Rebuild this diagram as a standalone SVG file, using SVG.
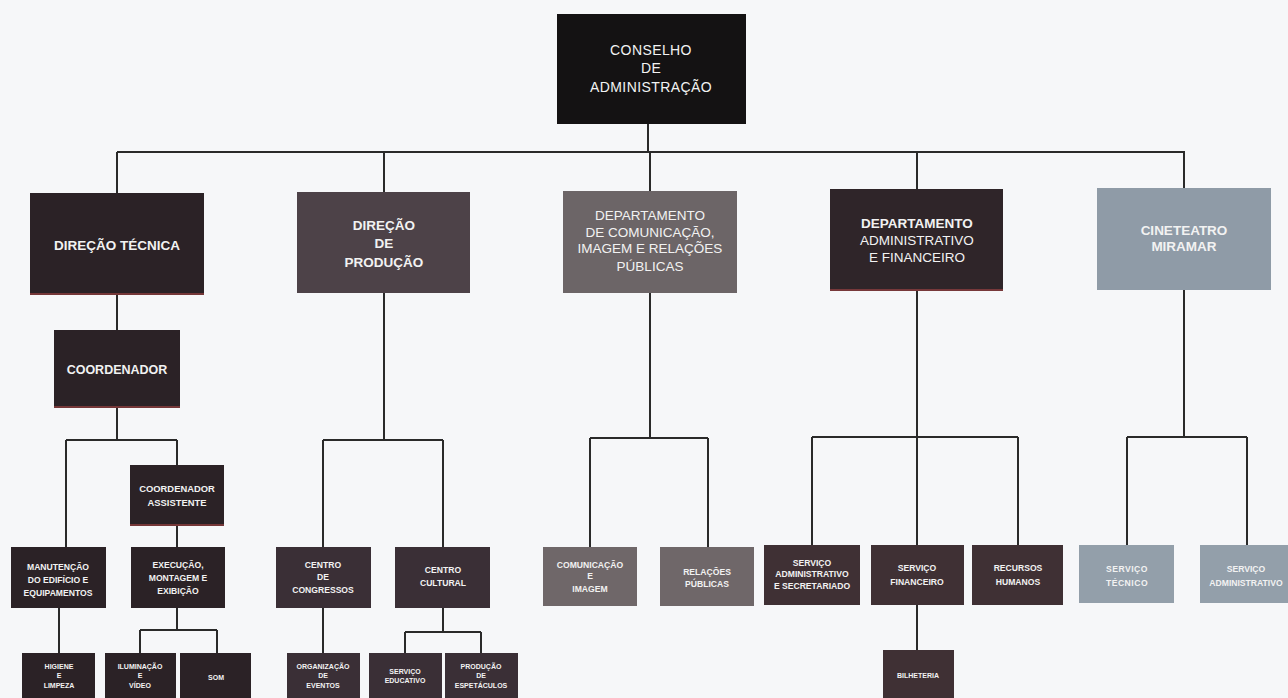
<svg xmlns="http://www.w3.org/2000/svg" width="1288" height="698" viewBox="0 0 1288 698">
<style>
text{font-family:"Liberation Sans",Arial,sans-serif;fill:#f2f2f2;text-anchor:middle}
.b{font-weight:bold}
.l2{font-size:13.5px}
.top{font-size:14px;letter-spacing:0.4px}
.s{font-size:8.6px;font-weight:bold}
.xs{font-size:7px;font-weight:bold}
.k{fill:#141213}
.d{fill:#2b2226}
.p{fill:#4d4248}
.p2{fill:#3a2f36}
.g{fill:#6c6567}
.g2{fill:#6f6769}
.a{fill:#2f2529}
.a2{fill:#3f3034}
.u{fill:#8f9ba7}
.u2{fill:#939faa}
.r{stroke:#b04848;stroke-width:1.5;opacity:0.75}
#connectors path{fill:none;stroke:#2a2a2a;stroke-width:2}
</style>
<rect width="1288" height="698" fill="#f6f7f9"/>
<g id="connectors">
<path d="M648 124V152M117 152H1185M117 152V193M384 152V192M650 152V191M917 152V189M1184 152V188"/>
<path d="M117 295V330M117 408V440M66 440H177M66 440V547M177 440V465M177 526V547M59 608V653M177 608V630M140 630H217M140 630V653M217 630V653"/>
<path d="M384 293V440M323 440H443M323 440V547M443 440V547M323 608V653M443 608V632M405 632H481M405 632V653M481 632V653"/>
<path d="M650 293V438M590 438H708M590 438V547M708 438V547"/>
<path d="M917 291V437M812 437H1018M812 437V545M917 437V545M1018 437V545M917 605V650"/>
<path d="M1184 290V437M1127 437H1247M1127 437V545M1247 437V545"/>
</g>
<g id="conselho"><rect class="k" x="557" y="14" width="189" height="110"/>
<text class="top" x="651" y="55">CONSELHO</text><text class="top" x="651" y="73">DE</text><text class="top" x="651" y="92">ADMINISTRAÇÃO</text></g>
<g id="direcao-tecnica"><rect class="d" x="30" y="193" width="174" height="102"/><line class="r" x1="30" y1="294" x2="204" y2="294"/>
<text class="b l2" x="117" y="250">DIREÇÃO TÉCNICA</text></g>
<g id="direcao-producao"><rect class="p" x="297" y="192" width="173" height="101"/>
<text class="b l2" x="384" y="230">DIREÇÃO</text><text class="b l2" x="384" y="248">DE</text><text class="b l2" x="384" y="267">PRODUÇÃO</text></g>
<g id="dep-comunicacao"><rect class="g" x="563" y="191" width="174" height="102"/>
<text class="l2" x="650" y="220">DEPARTAMENTO</text><text class="l2" x="650" y="237">DE COMUNICAÇÃO,</text><text class="l2" x="650" y="253">IMAGEM E RELAÇÕES</text><text class="l2" x="650" y="271">PÚBLICAS</text></g>
<g id="dep-administrativo"><rect class="a" x="830" y="189" width="173" height="102"/><line class="r" x1="830" y1="290" x2="1003" y2="290"/>
<text class="b l2" x="917" y="228">DEPARTAMENTO</text><text class="l2" x="917" y="245">ADMINISTRATIVO</text><text class="l2" x="917" y="262">E FINANCEIRO</text></g>
<g id="cineteatro"><rect class="u" x="1097" y="188" width="174" height="102"/>
<text class="b l2" x="1184" y="235">CINETEATRO</text><text class="b l2" x="1184" y="251">MIRAMAR</text></g>
<g id="coordenador"><rect class="d" x="54" y="330" width="126" height="78"/><line class="r" x1="54" y1="407" x2="180" y2="407"/>
<text class="b" font-size="12.5" x="117" y="374">COORDENADOR</text></g>
<g id="coordenador-assistente"><rect class="d" x="130" y="465" width="94" height="61"/><line class="r" x1="130" y1="525" x2="224" y2="525"/>
<text class="b" font-size="9.4" x="177" y="492">COORDENADOR</text><text class="b" font-size="9.4" x="177" y="506">ASSISTENTE</text></g>
<g id="manutencao"><rect class="d" x="11" y="547" width="95" height="61"/>
<text class="s" x="58" y="570">MANUTENÇÃO</text><text class="s" x="58" y="583">DO EDIFÍCIO E</text><text class="s" x="58" y="596">EQUIPAMENTOS</text></g>
<g id="execucao"><rect class="d" x="131" y="547" width="94" height="61"/>
<text class="s" x="178" y="568">EXECUÇÃO,</text><text class="s" x="178" y="581">MONTAGEM E</text><text class="s" x="178" y="594">EXIBIÇÃO</text></g>
<g id="higiene"><rect class="d" x="22" y="653" width="73" height="50"/>
<text class="xs" x="59" y="669">HIGIENE</text><text class="xs" x="59" y="678">E</text><text class="xs" x="59" y="688">LIMPEZA</text></g>
<g id="iluminacao"><rect class="d" x="105" y="653" width="71" height="50"/>
<text class="xs" x="140" y="669">ILUMINAÇÃO</text><text class="xs" x="140" y="678">E</text><text class="xs" x="140" y="688">VÍDEO</text></g>
<g id="som"><rect class="d" x="180" y="653" width="71" height="50"/>
<text class="xs" x="216" y="680">SOM</text></g>
<g id="centro-congressos"><rect class="p2" x="276" y="547" width="95" height="61"/>
<text class="s" x="323" y="568">CENTRO</text><text class="s" x="323" y="580">DE</text><text class="s" x="323" y="593">CONGRESSOS</text></g>
<g id="centro-cultural"><rect class="p2" x="395" y="547" width="95" height="61"/>
<text class="s" x="443" y="573">CENTRO</text><text class="s" x="443" y="586">CULTURAL</text></g>
<g id="organizacao"><rect class="p2" x="287" y="653" width="73" height="50"/>
<text class="xs" x="323" y="669">ORGANIZAÇÃO</text><text class="xs" x="323" y="678">DE</text><text class="xs" x="323" y="688">EVENTOS</text></g>
<g id="servico-educativo"><rect class="p2" x="369" y="653" width="73" height="50"/>
<text class="xs" x="405" y="674">SERVIÇO</text><text class="xs" x="405" y="683">EDUCATIVO</text></g>
<g id="producao-espetaculos"><rect class="p2" x="445" y="653" width="73" height="50"/>
<text class="xs" x="481" y="669">PRODUÇÃO</text><text class="xs" x="481" y="678">DE</text><text class="xs" x="481" y="688">ESPETÁCULOS</text></g>
<g id="comunicacao-imagem"><rect class="g2" x="543" y="547" width="94" height="59"/>
<text class="s" x="590" y="568">COMUNICAÇÃO</text><text class="s" x="590" y="579">E</text><text class="s" x="590" y="592">IMAGEM</text></g>
<g id="relacoes-publicas"><rect class="g2" x="660" y="547" width="94" height="59"/>
<text class="s" x="707" y="575">RELAÇÕES</text><text class="s" x="707" y="587">PÚBLICAS</text></g>
<g id="servico-administrativo"><rect class="a2" x="764" y="545" width="96" height="60"/>
<text class="s" x="812" y="566">SERVIÇO</text><text class="s" x="812" y="577">ADMINISTRATIVO</text><text class="s" x="812" y="589">E SECRETARIADO</text></g>
<g id="servico-financeiro"><rect class="a2" x="871" y="545" width="93" height="60"/>
<text class="s" x="917" y="571">SERVIÇO</text><text class="s" x="917" y="585">FINANCEIRO</text></g>
<g id="recursos-humanos"><rect class="a2" x="972" y="545" width="91" height="60"/>
<text class="s" x="1018" y="571">RECURSOS</text><text class="s" x="1018" y="585">HUMANOS</text></g>
<g id="bilheteria"><rect class="a2" x="883" y="650" width="71" height="53"/>
<text class="xs" x="918" y="678">BILHETERIA</text></g>
<g id="servico-tecnico"><rect class="u2" x="1079" y="545" width="95" height="58"/>
<text class="s" x="1127" y="572" letter-spacing="0.5">SERVIÇO</text><text class="s" x="1127" y="586" letter-spacing="0.5">TÉCNICO</text></g>
<g id="servico-administrativo-cine"><rect class="u2" x="1200" y="545" width="88" height="58"/>
<text class="s" x="1246" y="572">SERVIÇO</text><text class="s" x="1246" y="586">ADMINISTRATIVO</text></g>
</svg>
